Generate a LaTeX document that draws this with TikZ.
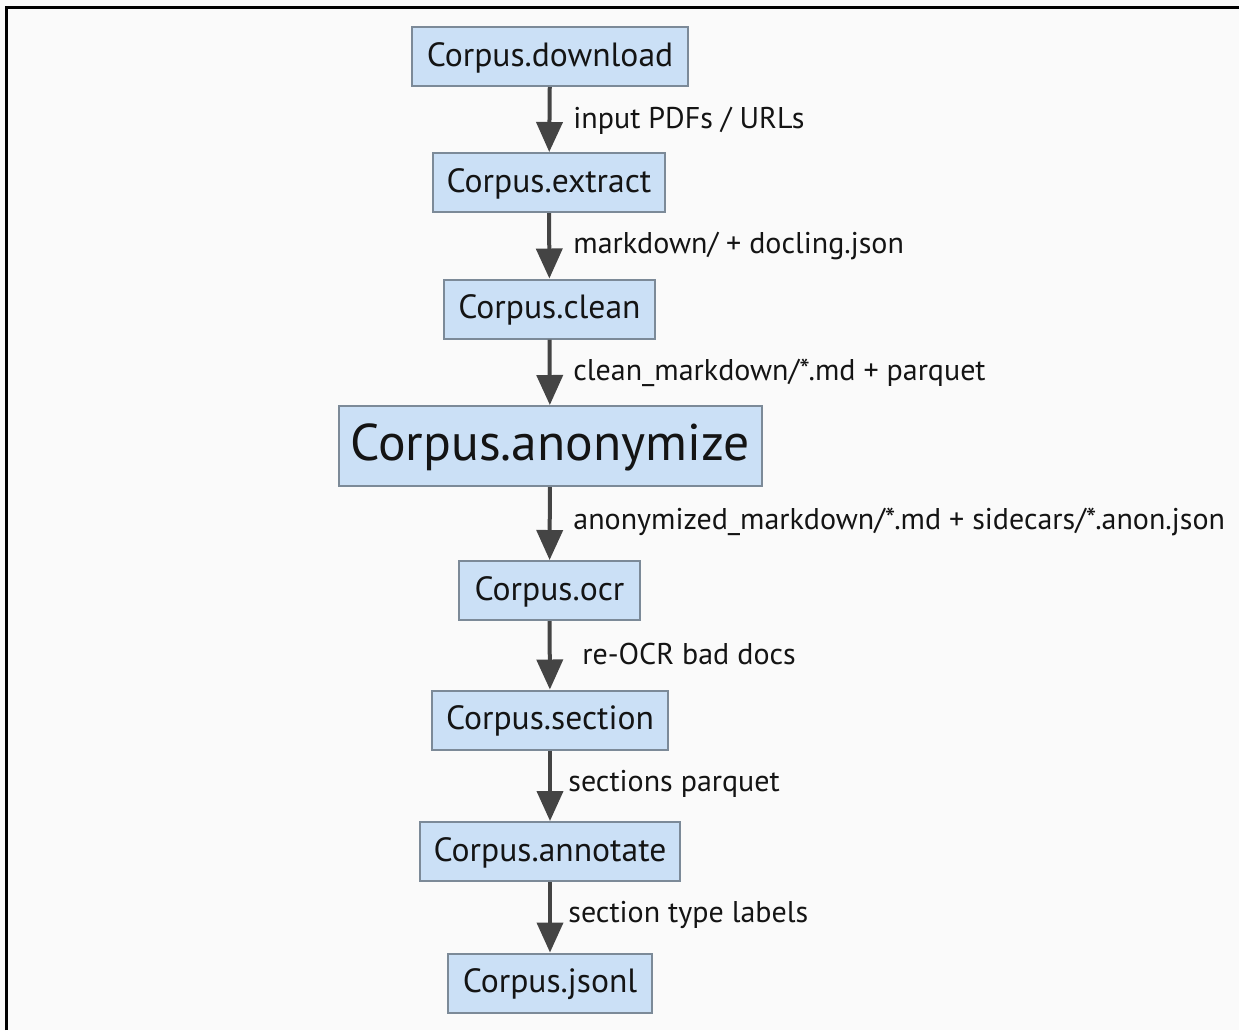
\documentclass[tikz,border=0pt]{standalone}
\usepackage{fontspec}
\setmainfont{PT Sans}
\usetikzlibrary{arrows.meta}
\definecolor{bgc}{HTML}{FAFAFA}
\definecolor{boxfill}{HTML}{CBE0F6}
\definecolor{boxdraw}{HTML}{7C8A98}
\definecolor{arrc}{HTML}{444444}
\definecolor{txt}{HTML}{141414}
\tikzset{
  stage/.style={draw=boxdraw, fill=boxfill, line width=1pt, inner sep=0pt,
    text=txt, font=\fontsize{16.8}{19}\selectfont, minimum height=29.5pt,
    text depth=2pt},
  bigstage/.style={stage, font=\fontsize{25.8}{30}\selectfont, minimum height=40pt,
    text depth=4pt},
  lbl/.style={anchor=west, inner sep=0pt, text=txt, font=\fontsize{15}{18}\selectfont},
  flow/.style={draw=arrc, line width=2pt, -{Triangle[width=13pt,length=15pt]}}
}
\begin{document}
\begin{tikzpicture}[x=0.5pt,y=-0.5pt]
\useasboundingbox (0,0) rectangle (1239,1030);
\fill[bgc] (0,0) rectangle (1239,1030);
\draw[black, line width=1.5pt] (6.5,1030) -- (6.5,7.5) -- (1239,7.5);
\node[stage, minimum width=138pt] (dl) at (550,56.5) {Corpus.download};
\node[stage, minimum width=116pt] (ex) at (549,182.5) {Corpus.extract};
\node[stage, minimum width=105.5pt] (cl) at (549.5,309) {Corpus.clean};
\node[bigstage, minimum width=211.5pt] (an) at (550,446) {Corpus.anonymize};
\node[stage, minimum width=90.5pt] (oc) at (549.5,590.5) {Corpus.ocr};
\node[stage, minimum width=118pt] (se) at (550,720) {Corpus.section};
\node[stage, minimum width=130pt] (at) at (550,851.5) {Corpus.annotate};
\node[stage, minimum width=102pt] (js) at (550,983) {Corpus.jsonl};
\draw[flow] (dl) -- (ex);
\draw[flow] (ex) -- (cl);
\draw[flow] (cl) -- (an);
\draw[flow] (an) -- (oc);
\draw[flow] (oc) -- (se);
\draw[flow] (se) -- (at);
\draw[flow] (at) -- (js);
\node[lbl] (l1) at (573,121) {input PDFs / URLs};
\node[lbl] (l2) at (573,246) {markdown/ + docling.json};
\node[lbl] (l3) at (573,373) {clean\_markdown/*.md + parquet};
\node[lbl] (l4) at (573,522) {anonymized\_markdown/*.md + sidecars/*.anon.json};
\node[lbl] (l5) at (582,654) {re-OCR bad docs};
\node[lbl] (l6) at (568,784) {sections parquet};
\node[lbl] (l7) at (568,915) {section type labels};
\end{tikzpicture}
\end{document}
